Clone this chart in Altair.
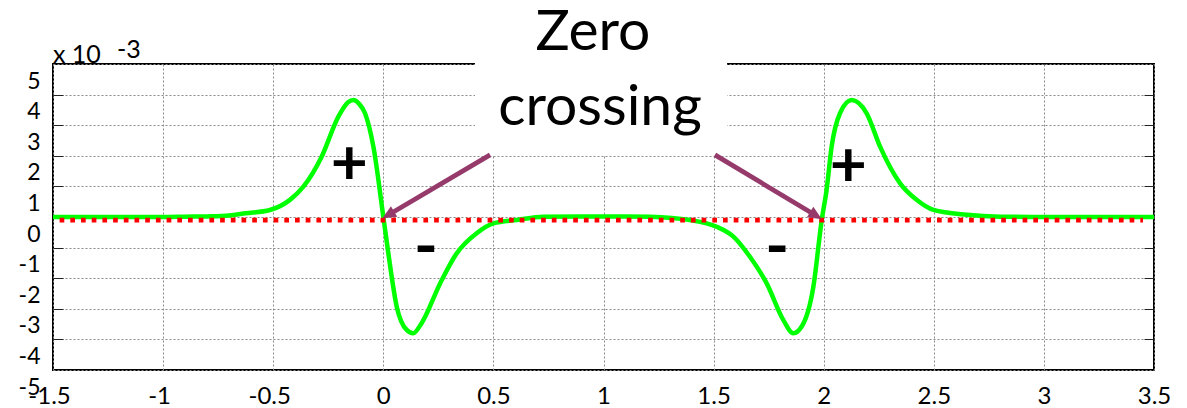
import math
import altair as alt
import pandas as pd

# ---------------- data ----------------
curve_x = [-1.5, -1.2, -1.0, -0.9, -0.8, -0.7, -0.626, -0.515, -0.424, -0.363, -0.28, -0.204,
           -0.16, -0.136, -0.11, -0.083, -0.045, 0.0, 0.023, 0.061, 0.106, 0.136, 0.174, 0.258,
           0.333, 0.424, 0.5, 0.606, 0.727, 0.9, 1.1, 1.211, 1.393, 1.514, 1.590, 1.665, 1.741,
           1.817, 1.862, 1.900, 1.953, 1.991, 2.013, 2.036, 2.074, 2.127, 2.195, 2.256, 2.347,
           2.422, 2.498, 2.650, 2.801, 3.0, 3.5]
curve_y = [0, 0, 0, 0.01, 0.02, 0.05, 0.12, 0.23, 0.56, 0.99, 1.97, 3.28,
           3.75, 3.82, 3.7, 3.39, 2.30, 0.01, -1.19, -2.93, -3.69, -3.80, -3.47, -2.17,
           -1.19, -0.53, -0.21, -0.10, 0.01, 0.02, 0.02, 0.01, -0.10, -0.32, -0.64, -1.30, -2.17,
           -3.37, -3.80, -3.58, -2.28, -0.10, 0.88, 2.30, 3.39, 3.82, 3.39, 2.30, 1.10,
           0.56, 0.23, 0.07, 0.01, 0.0, 0.0]

ref_x = [-1.47, 3.45]
ref_y = [-0.1, -0.1]

x_ticks = [-1.5, -1, -0.5, 0, 0.5, 1, 1.5, 2, 2.5, 3, 3.5]
y_ticks = [-5, -4, -3, -2, -1, 0, 1, 2, 3, 4, 5]

sign_text = ["+", "-", "-", "+"]
sign_x = [-0.154, 0.194, 1.789, 2.112]
sign_y = [1.70, -1.05, -1.05, 1.64]

callout_text = ["Zero", "crossing"]
callout_x = [0.952, 0.984]
callout_y = [5.46, 3.01]

box_x, box_x2 = [0.4165], [1.561]
box_y, box_y2 = [2.03], [7.5]

arrow_start_x = [0.485, 1.506]
arrow_start_y = [2.03, 2.03]
arrow_tip_x = [-0.005, 1.992]
arrow_tip_y = [-0.05, -0.07]

exp_text = ["x 10", "-3"]
exp_x = [-1.5, -1.209]
exp_y = [5.03, 5.2]

# ---------------- layout ----------------
W, H = 1101, 306
XD, YD = [-1.5, 3.5], [-5, 5]
FONT = "Lato"
GREEN, RED, PURPLE = "#00FF00", "#FF0000", "#953A6A"

def px(x):
    return (x - XD[0]) / (XD[1] - XD[0]) * W

def py(y):
    return (YD[1] - y) / (YD[1] - YD[0]) * H

shaft_rows, head_rows = [], []
for i, (sx, sy, tx, ty) in enumerate(zip(arrow_start_x, arrow_start_y, arrow_tip_x, arrow_tip_y)):
    dxp, dyp = px(tx) - px(sx), py(ty) - py(sy)
    L = math.hypot(dxp, dyp)
    back = 9.0
    ex = tx - dxp / L * back * (XD[1] - XD[0]) / W
    ey = ty + dyp / L * back * (YD[1] - YD[0]) / H
    shaft_rows += [{"a": i, "x": sx, "y": sy, "o": 0}, {"a": i, "x": ex, "y": ey, "o": 1}]
    head_rows.append({"x": tx, "y": ty, "ang": math.degrees(math.atan2(dxp, -dyp)) % 360})

curve_df = pd.DataFrame({"x": curve_x, "y": curve_y})
ref_df = pd.DataFrame({"x": ref_x, "y": ref_y})
sign_df = pd.DataFrame({"t": sign_text, "x": sign_x, "y": sign_y})
call_df = pd.DataFrame({"t": callout_text, "x": callout_x, "y": callout_y})
box_df = pd.DataFrame({"x": box_x, "x2": box_x2, "y": box_y, "y2": box_y2})
shaft_df = pd.DataFrame(shaft_rows)
head_df = pd.DataFrame(head_rows)
exp_df = pd.DataFrame({"t": exp_text, "x": exp_x, "y": exp_y})

xs = alt.Scale(domain=XD, nice=False, zero=False)
ys = alt.Scale(domain=YD, nice=False, zero=False)

GRID = dict(gridColor="#8a8a8a", gridDash=[2, 2], gridWidth=1)

x_main = alt.Axis(values=x_ticks, grid=True, domain=False, ticks=False, tickSize=0,
                  labelExpr="'' + datum.value", labelFont=FONT, labelFontSize=24,
                  labelColor="black", labelPadding=14, labelFlush=False, labelOverlap=False,
                  labelOffset={"condition": {"test": "datum.value < 0", "value": -4}, "value": 0},
                  title=None, **GRID)
y_main = alt.Axis(values=y_ticks, grid=True, domain=False, ticks=False, tickSize=0,
                  labelExpr="'' + datum.value", labelFont=FONT, labelFontSize=23,
                  labelColor="black", labelPadding=13, labelOffset=17, labelOverlap=False,
                  labelFlush=False, title=None, **GRID)
y_ticks_left_in = alt.Axis(orient="right", offset=-W, values=y_ticks[1:-1], grid=False,
                           domain=False, labels=False, ticks=True, tickSize=10,
                           tickColor="#222222", tickWidth=1, title=None)
y_ticks_right_in = alt.Axis(orient="left", offset=-W, values=y_ticks[1:-1], grid=False,
                            domain=False, labels=False, ticks=True, tickSize=10,
                            tickColor="#222222", tickWidth=1, title=None)

curve = alt.Chart(curve_df).mark_line(color=GREEN, strokeWidth=4.5, interpolate="monotone").encode(
    x=alt.X("x:Q", scale=xs, axis=x_main),
    y=alt.Y("y:Q", scale=ys, axis=y_main),
)

ref = alt.Chart(ref_df).mark_line(color=RED, strokeWidth=4.7, strokeDash=[4.7, 6], strokeCap="butt").encode(
    x=alt.X("x:Q", scale=xs, axis=None),
    y=alt.Y("y:Q", scale=ys, axis=y_ticks_left_in),
)

box = alt.Chart(box_df).mark_rect(fill="white", stroke=None).encode(
    x=alt.X("x:Q", scale=xs, axis=None), x2="x2:Q",
    y=alt.Y("y:Q", scale=ys, axis=None), y2="y2:Q",
)

shafts = alt.Chart(shaft_df).mark_line(color=PURPLE, strokeWidth=4.7, strokeCap="butt").encode(
    x=alt.X("x:Q", scale=xs, axis=None),
    y=alt.Y("y:Q", scale=ys, axis=y_ticks_right_in),
    detail="a:N",
    order="o:Q",
)

heads = alt.Chart(head_df).mark_point(
    shape="M0,0L-0.45,1L0.45,1Z", size=760, filled=True, color=PURPLE, opacity=1, strokeWidth=0
).encode(
    x=alt.X("x:Q", scale=xs, axis=None),
    y=alt.Y("y:Q", scale=ys, axis=None),
    angle=alt.Angle("ang:Q", scale=None),
)

callout = alt.Chart(call_df).mark_text(font=FONT, fontSize=57, align="center",
                                       baseline="alphabetic", color="black").encode(
    x=alt.X("x:Q", scale=xs, axis=None),
    y=alt.Y("y:Q", scale=ys, axis=None),
    text="t:N",
)

signs = alt.Chart(sign_df).mark_text(font=FONT, fontSize=64, fontWeight="bold", align="center",
                                     baseline="middle", color="black").encode(
    x=alt.X("x:Q", scale=xs, axis=None),
    y=alt.Y("y:Q", scale=ys, axis=None),
    text="t:N",
)

expo = alt.Chart(exp_df).mark_text(font=FONT, fontSize=25, align="left",
                                   baseline="alphabetic", color="black").encode(
    x=alt.X("x:Q", scale=xs, axis=None),
    y=alt.Y("y:Q", scale=ys, axis=None),
    text="t:N",
)

chart = alt.layer(curve, ref, box, shafts, heads, callout, signs, expo).resolve_axis(
    x="independent", y="independent"
).properties(
    width=W, height=H,
    autosize=alt.AutoSizeParams(type="none"),
    padding={"left": 45, "top": 56, "right": 25, "bottom": 36},
    background="white",
).configure_view(stroke="black", strokeWidth=2)

chart.save("out.html", embed_options={"renderer": "svg", "actions": False})
